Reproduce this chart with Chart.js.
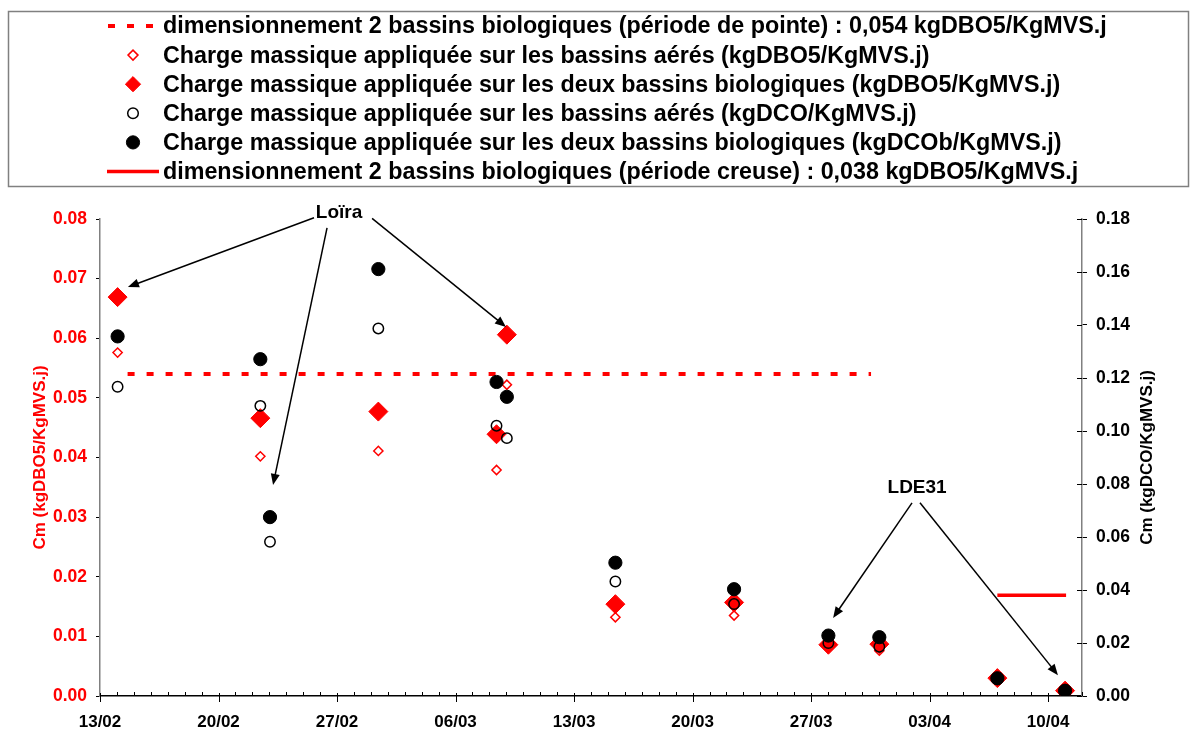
<!DOCTYPE html>
<html>
<head>
<meta charset="utf-8">
<script src="https://cdn.jsdelivr.net/npm/chart.js@4.4.0/dist/chart.umd.min.js"></script>
<style>
  html, body { margin: 0; padding: 0; background: #fff; }
</style>
</head>
<body>
<canvas id="cmChart" width="1197" height="731"></canvas>
<script>
// jours écoulés depuis le 13/02
const jours = [1.04, 9.47, 10.04, 16.44, 23.42, 24.03, 30.44, 37.45, 43.02, 46.03, 53.0, 57.0];

// kgDBO5/KgMVS.j (axe de gauche)
const cmDbo5Aeres = [0.0576, 0.0402, null, 0.0411, 0.0379, 0.0522, 0.0132, 0.0135, 0.0083, 0.0076, 0.0029, 0.0008];
const cmDbo5Bio   = [0.0669, 0.0466, null, 0.0477, 0.0439, 0.0606, 0.0154, 0.0157, 0.0086, 0.0087, 0.0030, 0.0009];

// kgDCO/KgMVS.j (axe de droite)
const cmDcoAeres = [0.1167, 0.1095, 0.0582, 0.1387, 0.1020, 0.0973, 0.0432, 0.0347, 0.0200, 0.0186, 0.0063, 0.0018];
const cmDcobBio  = [0.1357, 0.1271, 0.0675, 0.1611, 0.1185, 0.1129, 0.0503, 0.0403, 0.0228, 0.0222, 0.0067, 0.0020];

// lignes de dimensionnement
const pointeJours = [1.63, 45.54];
const pointeCm = [0.054, 0.054];
const creuseJours = [53.0, 57.06];
const creuseCm = [0.038, 0.038];

const datesAxe = ['13/02', '20/02', '27/02', '06/03', '13/03', '20/03', '27/03', '03/04', '10/04'];

const FONT = "'Liberation Sans', Arial, sans-serif";

function points(xs, ys) {
    return xs.map((x, i) => ({ x: x, y: ys[i] })).filter(p => p.y !== null);
}

// flèches des annotations (jour, valeur axe gauche)
const annotations = [
    { texte: 'Loïra', x: 14.12, y: 0.0811, fleches: [[12.64, 0.0802, 1.65, 0.0686], [13.41, 0.0785, 10.22, 0.0354], [16.07, 0.0801, 23.98, 0.0619]] },
    { texte: 'LDE31', x: 48.26, y: 0.0349, fleches: [[47.96, 0.0324, 43.30, 0.0131], [48.43, 0.0324, 56.58, 0.0035]] }
];

// legende dessinée a la main (encadré comme dans Excel)
const legendeCadre = {
    id: 'legendeCadre',
    afterDraw(chart) {
        const ctx = chart.ctx;
        ctx.save();
        ctx.strokeStyle = '#808080';
        ctx.lineWidth = 1.5;
        ctx.strokeRect(8.5, 11.5, 1180, 175);
        ctx.font = 'bold 23.3px ' + FONT;
        ctx.textBaseline = 'middle';
        ctx.fillStyle = '#000';
        chart.data.datasets.forEach((ds, i) => {
            const y = 26 + i * 29.1;
            if (ds.showLine) {
                ctx.beginPath();
                ctx.strokeStyle = ds.borderColor;
                ctx.lineWidth = ds.borderWidth;
                ctx.setLineDash(ds.borderDash || []);
                ctx.moveTo(ds.borderDash ? 108 : 107, y);
                ctx.lineTo(ds.borderDash ? 153 : 159, y);
                ctx.stroke();
                ctx.setLineDash([]);
            } else {
                const r = ds.legendRadius;
                ctx.beginPath();
                if (ds.pointStyle === 'rectRot') {
                    ctx.moveTo(133 - r, y); ctx.lineTo(133, y - r);
                    ctx.lineTo(133 + r, y); ctx.lineTo(133, y + r);
                    ctx.closePath();
                } else {
                    ctx.arc(133, y, r, 0, Math.PI * 2);
                }
                if (ds.backgroundColor !== 'transparent') {
                    ctx.fillStyle = ds.backgroundColor;
                    ctx.fill();
                }
                ctx.strokeStyle = ds.borderColor;
                ctx.lineWidth = ds.borderWidth;
                ctx.stroke();
            }
            ctx.fillStyle = '#000';
            ctx.fillText(ds.label, 163, y + 1);
        });
        ctx.restore();
    }
};

// graduations, titre de droite et annotations
const habillage = {
    id: 'habillage',
    afterDraw(chart) {
        const ctx = chart.ctx;
        const area = chart.chartArea;
        const x = chart.scales.x;
        const y = chart.scales.y;
        const y2 = chart.scales.y2;
        ctx.save();
        ctx.strokeStyle = '#000';
        ctx.lineWidth = 1;
        ctx.beginPath();
        x.ticks.forEach(t => {
            const px = Math.round(x.getPixelForValue(t.value)) + 0.5;
            if (t.value % 7 === 0) {
                ctx.moveTo(px, area.bottom - 3);
                ctx.lineTo(px, area.bottom + 6);
            } else {
                ctx.moveTo(px, area.bottom - 4);
                ctx.lineTo(px, area.bottom);
            }
        });
        y2.ticks.forEach(t => {
            const py = Math.round(y2.getPixelForValue(t.value)) + 0.5;
            ctx.moveTo(area.right - 5, py);
            ctx.lineTo(area.right, py);
        });
        ctx.stroke();

        ctx.fillStyle = '#000';
        ctx.font = 'bold 17px ' + FONT;
        ctx.textAlign = 'center';
        ctx.textBaseline = 'middle';
        ctx.translate(1147, (area.top + area.bottom) / 2);
        ctx.rotate(-Math.PI / 2);
        ctx.fillText('Cm (kgDCO/KgMVS.j)', 0, 0);
        ctx.restore();

        ctx.save();
        ctx.fillStyle = '#000';
        ctx.strokeStyle = '#000';
        ctx.lineWidth = 1.5;
        ctx.font = 'bold 19px ' + FONT;
        ctx.textAlign = 'center';
        ctx.textBaseline = 'middle';
        annotations.forEach(a => {
            ctx.fillText(a.texte, x.getPixelForValue(a.x), y.getPixelForValue(a.y));
            a.fleches.forEach(f => {
                const x1 = x.getPixelForValue(f[0]), y1 = y.getPixelForValue(f[1]);
                const x2 = x.getPixelForValue(f[2]), y2p = y.getPixelForValue(f[3]);
                const ang = Math.atan2(y2p - y1, x2 - x1);
                ctx.beginPath();
                ctx.moveTo(x1, y1);
                ctx.lineTo(x2 - 8 * Math.cos(ang), y2p - 8 * Math.sin(ang));
                ctx.stroke();
                ctx.beginPath();
                ctx.moveTo(x2, y2p);
                ctx.lineTo(x2 - 11 * Math.cos(ang) + 4.5 * Math.sin(ang), y2p - 11 * Math.sin(ang) - 4.5 * Math.cos(ang));
                ctx.lineTo(x2 - 11 * Math.cos(ang) - 4.5 * Math.sin(ang), y2p - 11 * Math.sin(ang) + 4.5 * Math.cos(ang));
                ctx.closePath();
                ctx.fill();
            });
        });
        ctx.restore();
    }
};

const ctx = document.getElementById('cmChart').getContext('2d');
const chart = new Chart(ctx, {
    type: 'scatter',
    data: {
        datasets: [{
            label: 'dimensionnement 2 bassins biologiques (période de pointe) : 0,054 kgDBO5/KgMVS.j',
            data: points(pointeJours, pointeCm),
            showLine: true,
            borderColor: '#ff0000',
            borderWidth: 4,
            borderDash: [7, 12],
            pointRadius: 0,
            yAxisID: 'y',
            order: 6
        }, {
            label: 'Charge massique appliquée sur les bassins aérés (kgDBO5/KgMVS.j)',
            data: points(jours, cmDbo5Aeres),
            pointStyle: 'rectRot',
            pointRadius: 4.6,
            legendRadius: 5,
            backgroundColor: 'transparent',
            borderColor: '#ff0000',
            borderWidth: 1.5,
            yAxisID: 'y',
            order: 4
        }, {
            label: 'Charge massique appliquée sur les deux bassins biologiques (kgDBO5/KgMVS.j)',
            data: points(jours, cmDbo5Bio),
            pointStyle: 'rectRot',
            pointRadius: 9.5,
            legendRadius: 7.6,
            backgroundColor: '#ff0000',
            borderColor: '#ff0000',
            borderWidth: 1,
            yAxisID: 'y',
            order: 3
        }, {
            label: 'Charge massique appliquée sur les bassins aérés (kgDCO/KgMVS.j)',
            data: points(jours, cmDcoAeres),
            pointStyle: 'circle',
            pointRadius: 5.2,
            legendRadius: 5.3,
            backgroundColor: 'transparent',
            borderColor: '#000',
            borderWidth: 1.5,
            yAxisID: 'y2',
            order: 2
        }, {
            label: 'Charge massique appliquée sur les deux bassins biologiques (kgDCOb/KgMVS.j)',
            data: points(jours, cmDcobBio),
            pointStyle: 'circle',
            pointRadius: 6.6,
            legendRadius: 6.6,
            backgroundColor: '#000',
            borderColor: '#000',
            borderWidth: 1,
            yAxisID: 'y2',
            order: 1
        }, {
            label: 'dimensionnement 2 bassins biologiques (période creuse) : 0,038 kgDBO5/KgMVS.j',
            data: points(creuseJours, creuseCm),
            showLine: true,
            borderColor: '#ff0000',
            borderWidth: 3.5,
            pointRadius: 0,
            yAxisID: 'y2',
            order: 5
        }]
    },
    options: {
        responsive: false,
        animation: false,
        layout: { padding: { top: 219, left: 0, right: 0, bottom: 0 } },
        plugins: {
            legend: { display: false },
            tooltip: { enabled: false }
        },
        scales: {
            x: {
                type: 'linear',
                min: 0,
                max: 58,
                grid: { display: false },
                border: { display: true, color: '#000', width: 1.5 },
                ticks: {
                    stepSize: 1,
                    autoSkip: false,
                    maxRotation: 0,
                    padding: 8,
                    color: '#000',
                    font: { family: FONT, size: 17, weight: 'bold' },
                    callback: v => (v % 7 === 0 ? datesAxe[v / 7] : '')
                },
                afterFit: s => { s.height = 35; }
            },
            y: {
                position: 'left',
                min: 0,
                max: 0.08,
                grid: { drawOnChartArea: false, tickLength: 4, color: '#000' },
                border: { color: '#808080', width: 1.5 },
                ticks: {
                    stepSize: 0.01,
                    padding: 9,
                    color: '#ff0000',
                    font: { family: FONT, size: 17.5, weight: 'bold' },
                    callback: v => v.toFixed(2)
                },
                title: {
                    display: true,
                    text: 'Cm (kgDBO5/KgMVS.j)',
                    color: '#ff0000',
                    font: { family: FONT, size: 17, weight: 'bold' },
                    padding: { top: 30, bottom: 0 }
                },
                afterFit: s => { s.width = 100; }
            },
            y2: {
                position: 'right',
                min: 0,
                max: 0.18,
                grid: { drawOnChartArea: false, tickLength: 5, color: '#000' },
                border: { color: '#808080', width: 1.5 },
                ticks: {
                    stepSize: 0.02,
                    padding: 9,
                    color: '#000',
                    font: { family: FONT, size: 17.5, weight: 'bold' },
                    callback: v => v.toFixed(2)
                },
                afterFit: s => { s.width = 115; }
            }
        }
    },
    plugins: [legendeCadre, habillage]
});
</script>
</body>
</html>
